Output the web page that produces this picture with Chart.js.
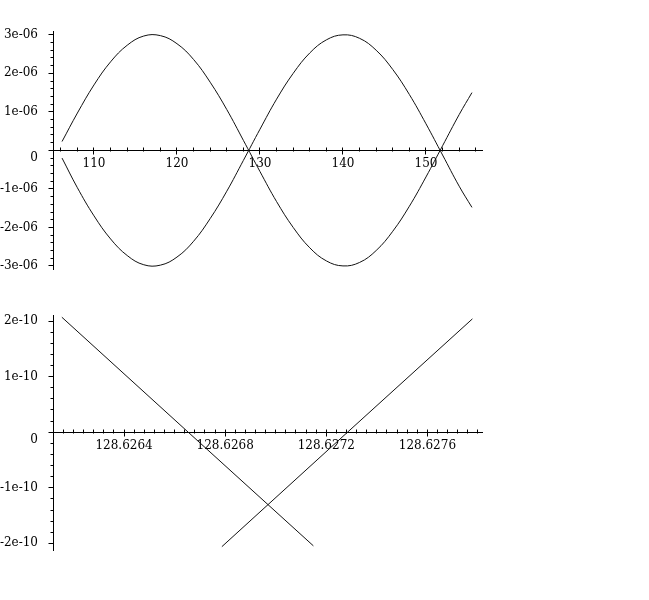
<!DOCTYPE html>
<html>
<head>
<meta charset="utf-8">
<script src="https://cdn.jsdelivr.net/npm/chart.js@4.4.1/dist/chart.umd.min.js"></script>
<style>
  html, body { margin: 0; padding: 0; background: #fff; }
  #wrap { position: relative; width: 649px; height: 600px; }
  canvas { position: absolute; left: 0; }
  #topChart { top: 0; }
  #bottomChart { top: 290px; }
</style>
</head>
<body>
<div id="wrap">
  <canvas id="topChart" width="649" height="290"></canvas>
  <canvas id="bottomChart" width="649" height="310"></canvas>
</div>
<script>
// top plot: the two curves
const topX = [106.15, 108, 110, 112, 114, 116, 118, 120, 122, 124, 126, 128, 130, 132,
  134, 136, 138, 140, 142, 144, 146, 148, 150, 152, 154, 155.54]
const topUpper = [0.23e-6, 0.97e-6, 1.70e-6, 2.30e-6, 2.73e-6, 2.97e-6, 2.98e-6, 2.77e-6,
  2.36e-6, 1.77e-6, 1.06e-6, 0.26e-6, -0.55e-6, -1.33e-6, -2.00e-6, -2.53e-6, -2.87e-6,
  -3.00e-6, -2.91e-6, -2.60e-6, -2.10e-6, -1.45e-6, -0.69e-6, 0.12e-6, 0.93e-6, 1.50e-6]
const topLower = [-0.20e-6, -0.97e-6, -1.70e-6, -2.30e-6, -2.73e-6, -2.97e-6, -2.98e-6, -2.77e-6,
  -2.36e-6, -1.77e-6, -1.06e-6, -0.26e-6, 0.55e-6, 1.33e-6, 2.00e-6, 2.53e-6, 2.87e-6,
  3.00e-6, 2.91e-6, 2.60e-6, 2.10e-6, 1.45e-6, 0.69e-6, -0.12e-6, -0.93e-6, -1.48e-6]
const topXTicks = [110, 120, 130, 140, 150]
const topXLabels = ['110', '120', '130', '140', '150']
const topYTicks = [-3e-6, -2e-6, -1e-6, 0, 1e-6, 2e-6, 3e-6]
const topYLabels = ['-3e-06', '-2e-06', '-1e-06', '0', '1e-06', '2e-06', '3e-06']

// bottom plot: zoom on the crossing near 128.627
const botDownX = [128.626154, 128.626654, 128.627149]
const botDownY = [2.07e-10, 0, -2.045e-10]
const botUpX = [128.626787, 128.627284, 128.627778]
const botUpY = [-2.06e-10, 0, 2.04e-10]
const botXTicks = [128.6264, 128.6268, 128.6272, 128.6276]
const botXLabels = ['128.6264', '128.6268', '128.6272', '128.6276']
const botYTicks = [-2e-10, -1e-10, 0, 1e-10, 2e-10]
const botYLabels = ['-2e-10', '-1e-10', '0', '1e-10', '2e-10']

Chart.defaults.font.family = 'DejaVu Serif'
Chart.defaults.font.size = 12
Chart.defaults.color = '#000'

function toPoints(xs, ys) {
  return xs.map((x, i) => ({ x: x, y: ys[i] }))
}

// maple style tick marks (short minor ones, longer major ones) on both axes
const mapleTicks = {
  id: 'mapleTicks',
  afterDraw(chart, args, opts) {
    const ctx = chart.ctx
    const xs = chart.scales.x, ys = chart.scales.y
    const y0 = Math.floor(ys.getPixelForValue(0)) + 0.5
    const x0 = Math.floor(chart.chartArea.left) + 0.5
    ctx.save()
    ctx.strokeStyle = '#000'
    ctx.lineWidth = 1
    ctx.beginPath()
    let start = Math.ceil(xs.min / opts.xStep)
    for (let i = start; i * opts.xStep <= xs.max; i++) {
      const v = i * opts.xStep
      const px = Math.floor(xs.getPixelForValue(v)) + 0.5
      const major = opts.xMajor.some(m => Math.abs(m - v) < opts.xStep / 10)
      ctx.moveTo(px, y0 - 3)
      ctx.lineTo(px, y0 + (major ? 4 : 1))
    }
    start = Math.ceil(ys.min / opts.yStep)
    for (let i = start; i * opts.yStep <= ys.max; i++) {
      const v = i * opts.yStep
      const py = Math.floor(ys.getPixelForValue(v)) + 0.5
      const major = opts.yMajor.some(m => Math.abs(m - v) < opts.yStep / 10)
      ctx.moveTo(x0 - (major ? 5 : 3), py)
      ctx.lineTo(x0, py)
    }
    ctx.stroke()
    ctx.restore()
  }
}

function makeChart(id, datasets, xMin, xMax, yMin, yMax, xTicks, xLabels, yTicks, yLabels, pad, steps) {
  const ctx = document.getElementById(id).getContext('2d')
  return new Chart(ctx, {
    type: 'scatter',
    data: { datasets: datasets },
    options: {
      responsive: false,
      animation: false,
      layout: { padding: pad },
      plugins: {
        legend: { display: false },
        tooltip: { enabled: false },
        mapleTicks: steps
      },
      scales: {
        x: {
          type: 'linear',
          position: { y: 0 },
          min: xMin,
          max: xMax,
          afterBuildTicks: s => { s.ticks = xTicks.map(v => ({ value: v })) },
          ticks: {
            autoSkip: false,
            maxRotation: 0,
            padding: 6,
            callback: (v, i) => xLabels[i]
          },
          grid: { display: false, drawTicks: false },
          border: { display: true, color: '#000', width: 1 }
        },
        y: {
          type: 'linear',
          position: 'left',
          min: yMin,
          max: yMax,
          afterFit: s => { s.width = 53 },
          afterBuildTicks: s => { s.ticks = yTicks.map(v => ({ value: v })) },
          ticks: {
            autoSkip: false,
            padding: 10,
            callback: (v, i) => yLabels[i] === '0' ? ['', '0'] : yLabels[i]
          },
          grid: { display: false, drawTicks: true, tickLength: 5 },
          border: { display: true, color: '#000', width: 1 }
        }
      }
    },
    plugins: [mapleTicks]
  })
}

function curve(xs, ys, smooth) {
  return {
    data: toPoints(xs, ys),
    showLine: true,
    borderColor: '#111',
    borderWidth: 1,
    pointRadius: 0,
    tension: smooth ? 0.4 : 0
  }
}

makeChart('topChart',
  [curve(topX, topUpper, true), curve(topX, topLower, true)],
  105.06, 156.75, -3.08e-6, 3.10e-6,
  topXTicks, topXLabels, topYTicks, topYLabels,
  { left: 0, right: 167, top: 31, bottom: 21 },
  { xStep: 2, xMajor: topXTicks, yStep: 0.2e-6, yMajor: topYTicks })

makeChart('bottomChart',
  [curve(botDownX, botDownY, false), curve(botUpX, botUpY, false)],
  128.626119, 128.627816, -2.12e-10, 2.11e-10,
  botXTicks, botXLabels, botYTicks, botYLabels,
  { left: 0, right: 167, top: 25, bottom: 50 },
  { xStep: 0.00004, xMajor: botXTicks, yStep: 0.2e-10, yMajor: botYTicks })
</script>
</body>
</html>
